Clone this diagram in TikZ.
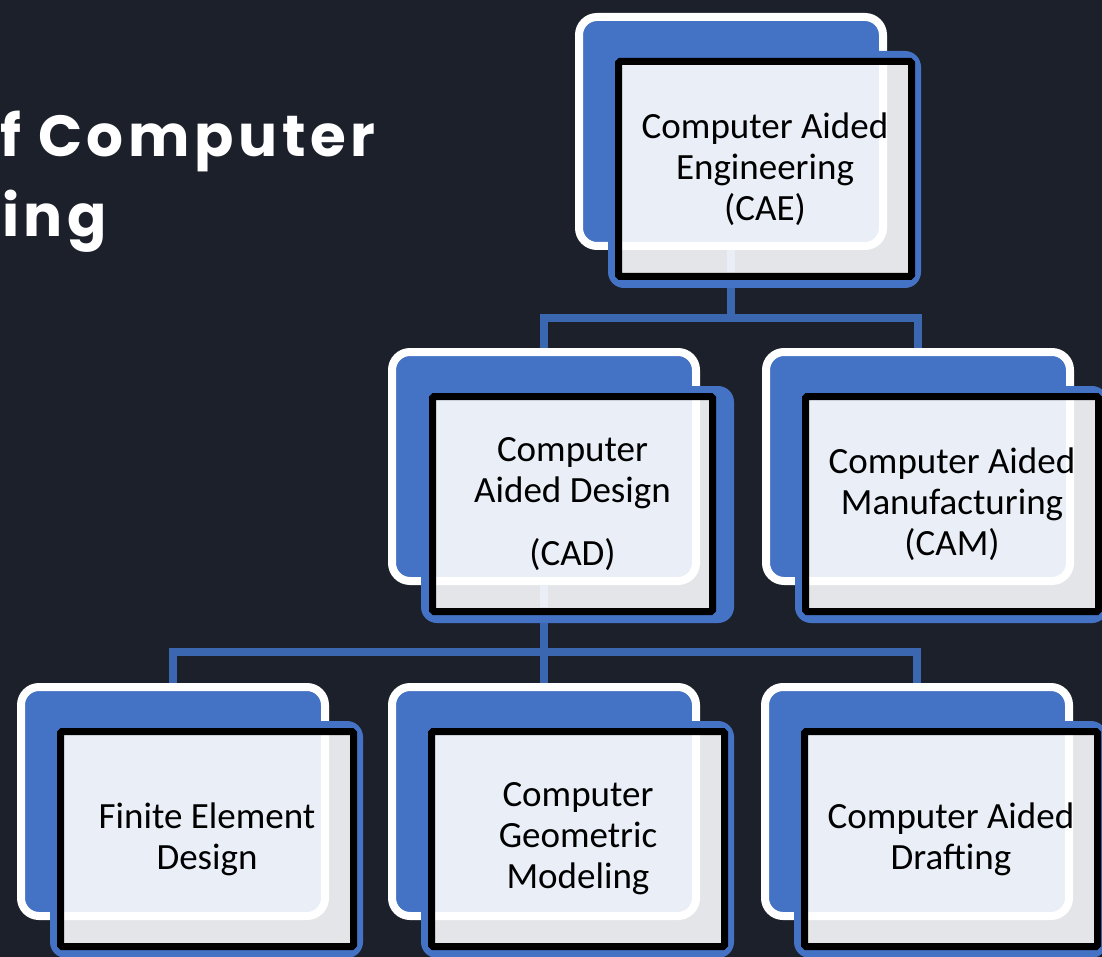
\documentclass[tikz,border=0pt]{standalone}
\usepackage{fontspec}
\usetikzlibrary{backgrounds}

\newfontfamily\boxfont{Carlito}
\newfontfamily\titlefont{Poppins}[LetterSpace=8]

\definecolor{slate}{HTML}{1C202B}
\definecolor{tileblue}{HTML}{4472C4}
\definecolor{linkblue}{HTML}{3B66B0}
\definecolor{panel}{HTML}{E9EEF7}
\definecolor{shade}{HTML}{E4E5E8}

\tikzset{
  backbox/.style={draw=white, line width=8pt, fill=tileblue, rounded corners=18pt,
    minimum width=304pt, minimum height=229pt, inner sep=0pt, outer sep=0pt},
  frontbox/.style={draw=black, line width=7pt, fill=shade, rounded corners=1.5pt,
    minimum width=293pt, minimum height=215pt, inner sep=0pt, outer sep=0pt,
    anchor=north west, align=center, text=black,
    font=\boxfont\fontsize{37}{41}\selectfont,
    path picture={\draw[draw=white, line width=8pt, fill=panel, rounded corners=18pt]
      (#1.north west) rectangle (#1.south east);}},
  backing/.style={fill=tileblue, rounded corners=16pt},
  link/.style={draw=linkblue, line width=8pt},
  seam/.style={draw=panel, line width=8pt},
  heading/.style={text=white, anchor=base west, inner sep=0pt,
    font=\titlefont\bfseries\fontsize{58}{64}\selectfont}
}

\begin{document}
\begin{tikzpicture}[x=1pt, y=-1pt]

\clip (0,0) rectangle (1102,957);

% Heading
\node[heading] (head1) at (0,157) {f Computer};
\node[heading] (head2) at (2,237) {ing};

% Top level
\node[backbox] (cae) at (731,131.5) {};
\fill[backing] ([shift={(29,34)}]cae.north west) rectangle ([shift={(38,42)}]cae.south east);
\node[frontbox=cae] (caeface) at ([shift={(39.5,44.5)}]cae.north west)
  {Computer Aided\\Engineering\\(CAE)};
\draw[seam] ([shift={(0,4)}]cae.south) -- ++(0,22);

% Second level
\node[backbox] (cad) at (544,466.5) {};
\fill[backing] ([shift={(29,34)}]cad.north west) rectangle ([shift={(38,42)}]cad.south east);
\node[frontbox=cad, minimum width=280pt] (cadface) at ([shift={(40.5,44.5)}]cad.north west)
  {Computer\\Aided Design\\[22pt](CAD)};
\draw[seam] ([shift={(0,4)}]cad.south) -- ++(0,22);

\node[backbox] (cam) at (918,466.5) {};
\fill[backing] ([shift={(29,34)}]cam.north west) rectangle ([shift={(38,42)}]cam.south east);
\node[frontbox=cam] (camface) at ([shift={(39.5,44.5)}]cam.north west)
  {Computer Aided\\Manufacturing\\(CAM)};

% Third level
\node[backbox] (fed) at (173,801.5) {};
\fill[backing] ([shift={(29,34)}]fed.north west) rectangle ([shift={(38,42)}]fed.south east);
\node[frontbox=fed] (fedface) at ([shift={(39.5,44.5)}]fed.north west)
  {Finite Element\\Design};

\node[backbox] (cgm) at (544,801.5) {};
\fill[backing] ([shift={(29,34)}]cgm.north west) rectangle ([shift={(38,42)}]cgm.south east);
\node[frontbox=cgm] (cgmface) at ([shift={(39.5,44.5)}]cgm.north west)
  {Computer\\Geometric\\Modeling};

\node[backbox] (cdr) at (917,801.5) {};
\fill[backing] ([shift={(29,34)}]cdr.north west) rectangle ([shift={(38,42)}]cdr.south east);
\node[frontbox=cdr] (cdrface) at ([shift={(39.5,44.5)}]cdr.north west)
  {Computer Aided\\Drafting};

% Connectors and backdrop
\begin{scope}[on background layer]
  \fill[slate] (0,0) rectangle (1102,957);
  \draw[link] (cae.south) -- ++(0,72) -| (cad.north);
  \draw[link] (cae.south) -- ++(0,72) -| (cam.north);
  \draw[link] (cad.south) -- ++(0,71) -| (fed.north);
  \draw[link] (cad.south) -- ++(0,71) -| (cgm.north);
  \draw[link] (cad.south) -- ++(0,71) -| (cdr.north);
\end{scope}

\end{tikzpicture}
\end{document}
